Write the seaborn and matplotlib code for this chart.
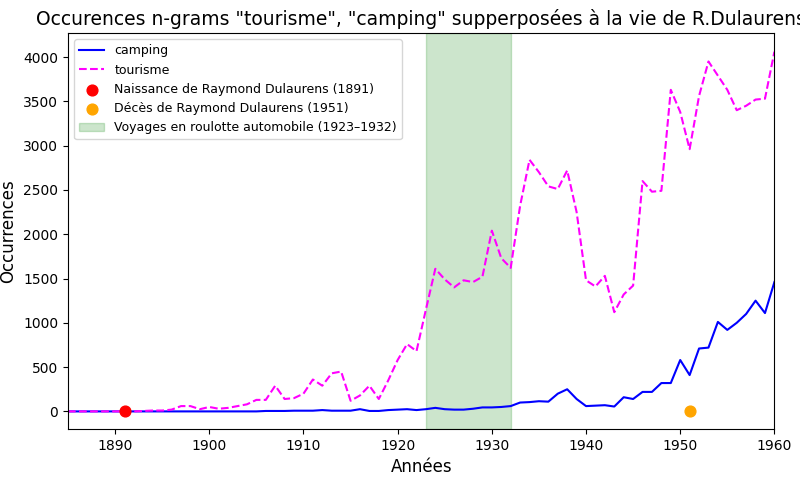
import seaborn as sns
import matplotlib.pyplot as plt
import pandas as pd

years = list(range(1885, 1961))
tourisme = [0, 0, 0, 0, 0, 0, 0, 0, 5, 10, 10, 20, 60, 60, 25, 50,
            30, 40, 60, 80, 130, 130, 290, 140, 150, 200, 360, 290, 430, 450,
            120, 180, 290, 140, 350, 580, 760, 680, 1150, 1610, 1490, 1400, 1480, 1460,
            1520, 2040, 1730, 1620, 2320, 2840, 2700, 2540, 2510, 2720, 2250, 1480,
            1410, 1530, 1120, 1320, 1420, 2600, 2480, 2490, 3630, 3380, 2960, 3560,
            3950, 3790, 3630, 3400, 3450, 3520, 3530, 4060]
camping = [0, 0, 0, 0, 0, 0, 0, 0, 0, 0, 0, 0, 0, 0, 0, 0,
           0, 0, 0, 0, 0, 5, 5, 5, 8, 8, 8, 15, 8, 8,
           8, 25, 5, 5, 15, 20, 25, 15, 25, 40, 25, 20, 20, 30,
           45, 45, 50, 60, 100, 105, 115, 110, 200, 250, 140, 60,
           65, 70, 55, 160, 140, 220, 220, 320, 320, 580, 410, 710,
           720, 1010, 920, 1000, 1100, 1250, 1110, 1460]

df = pd.DataFrame({"annee": years, "camping": camping, "tourisme": tourisme})

fig, ax = plt.subplots(figsize=(8, 4.8), dpi=100)
sns.lineplot(data=df, x="annee", y="camping", color="blue", label="camping", ax=ax)
sns.lineplot(data=df, x="annee", y="tourisme", color="magenta", linestyle="--", label="tourisme", ax=ax)
ax.scatter([1891], [0], color="red", s=60, zorder=5, label="Naissance de Raymond Dulaurens (1891)")
ax.scatter([1951], [0], color="orange", s=60, zorder=5, label="Décès de Raymond Dulaurens (1951)")
ax.axvspan(1923, 1932, color="green", alpha=0.2, label="Voyages en roulotte automobile (1923–1932)")

ax.set_xlim(1885, 1960)
ax.set_ylim(-200, 4270)
ax.set_title('Occurences n-grams "tourisme", "camping" supperposées à la vie de R.Dulaurens', fontsize=13.5)
ax.set_xlabel("Années", fontsize=12)
ax.set_ylabel("Occurrences", fontsize=12)
ax.legend(loc="upper left", fontsize=9)
plt.subplots_adjust(left=0.085, right=0.968, top=0.931, bottom=0.106)
plt.savefig("out.png")
